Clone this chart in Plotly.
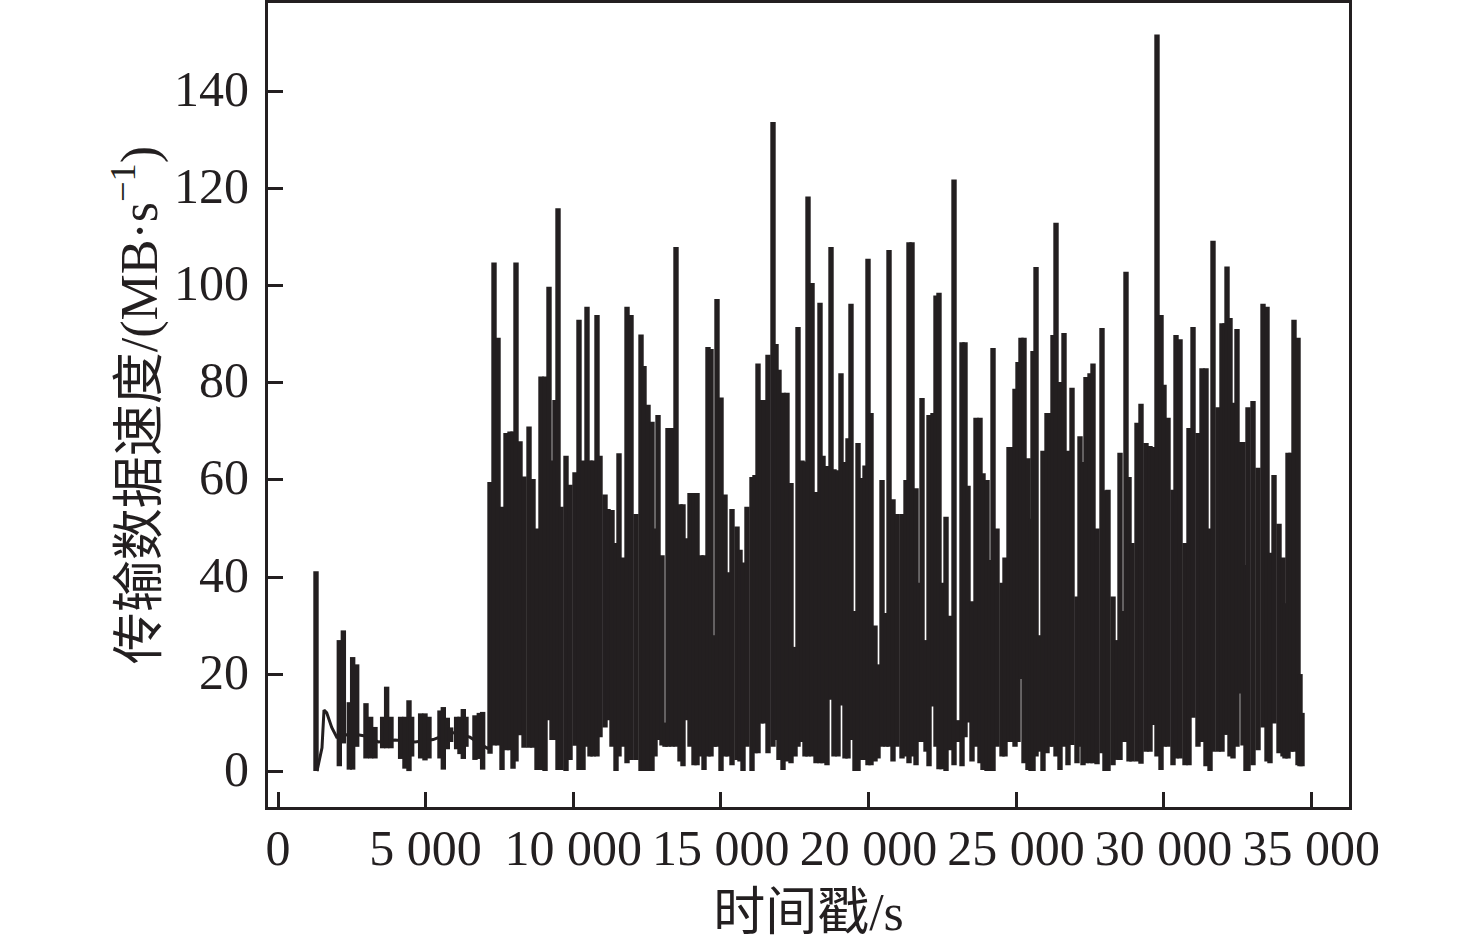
import plotly.graph_objects as go

INK = "#231f20"
FONT = "Liberation Serif, Noto Sans CJK SC, serif"

# Early sparse bursts and the later dense bursts: time, burst high, burst low
burst_time = [
    1287, 2077, 2213, 2416, 2529, 2665, 2980, 3138, 3285, 3545,
    3680, 3827, 4154, 4301, 4437, 4527, 4832, 4979, 5114, 5487,
    5600, 5735, 5848, 6051, 6164, 6277, 6367, 6672, 6819, 6932,
    7182, 7317, 7453, 7588, 7724, 7859, 7961, 8062, 8198, 8334,
    8503, 8638, 8774, 8909, 9045, 9180, 9282, 9383, 9485, 9587,
    9756, 9892, 10061, 10196, 10332, 10467, 10569, 10671, 10806, 10908,
    11077, 11179, 11314, 11450, 11551, 11687, 11823, 11958, 12127, 12297,
    12398, 12534, 12669, 12771, 12873, 13008, 13110, 13211, 13347, 13482,
    13618, 13719, 13855, 13957, 14092, 14194, 14329, 14431, 14566, 14668,
    14770, 14871, 15007, 15142, 15244, 15379, 15549, 15650, 15752, 15887,
    16057, 16158, 16260, 16361, 16463, 16599, 16768, 16870, 16971, 17107,
    17242, 17378, 17514, 17615, 17751, 17852, 17954, 18090, 18225, 18360,
    18462, 18597, 18733, 18834, 18970, 19071, 19207, 19309, 19410, 19546,
    19648, 19783, 19885, 19986, 20088, 20223, 20325, 20461, 20596, 20698,
    20833, 20969, 21138, 21274, 21375, 21477, 21613, 21714, 21816, 21951,
    22053, 22188, 22290, 22391, 22493, 22629, 22764, 22900, 23035, 23171,
    23272, 23374, 23509, 23645, 23780, 23882, 24018, 24119, 24221, 24356,
    24526, 24627, 24763, 24864, 24966, 25068, 25169, 25271, 25406, 25508,
    25576, 25678, 25779, 25914, 26050, 26152, 26253, 26355, 26490, 26626,
    26761, 26897, 27066, 27168, 27270, 27371, 27507, 27608, 27744, 27913,
    28014, 28116, 28286, 28421, 28523, 28624, 28726, 28828, 28929, 29099,
    29234, 29403, 29539, 29641, 29776, 29912, 30013, 30149, 30318, 30420,
    30556, 30725, 30860, 30996, 31165, 31301, 31436, 31572, 31673, 31843,
    31978, 32080, 32148, 32249, 32351, 32486, 32588, 32689, 32791, 32859,
    33028, 33198, 33367, 33503, 33604, 33740, 33909, 34045, 34112, 34214,
    34315, 34417, 34553, 34620, 34688,
]
burst_high = [
    41.2, 27, 29, 14.2, 23.5, 22, 14, 11.2, 9.1, 11.2,
    17.4, 11.2, 11.2, 11.2, 14.6, 11.2, 11.9, 11.9, 11.2, 12.5,
    13.2, 11, 9, 11.2, 11.2, 12.8, 11.2, 11.5, 12, 12.2,
    59.6, 104.8, 89.3, 54.5, 69.7, 70, 70, 104.8, 68, 60.7,
    71, 60.2, 50, 81.3, 81.3, 99.8, 64, 76.5, 116, 54.5,
    65, 59, 61.6, 93, 64, 95.7, 64, 64, 94, 65,
    57, 54, 53.8, 47, 65.5, 44, 95.7, 94, 53, 90,
    83.5, 75.5, 72, 50, 73.4, 44.5, 10, 70.7, 70.7, 108,
    55, 55, 48, 57.3, 57.3, 57.3, 44.5, 44.5, 87.4, 87,
    28, 97.3, 77, 57, 41, 54, 50.4, 45.6, 43, 54.5,
    60.6, 61, 84, 76.5, 76.5, 85.8, 133.8, 88, 82.7, 78,
    78, 59.4, 25.6, 91.5, 64, 63.8, 118.4, 100.6, 57.5, 96.5,
    65, 62.9, 108, 62.2, 62, 82, 63.7, 68.6, 96.3, 33,
    67.6, 60.4, 63, 105.6, 73.8, 30, 22, 60, 32.6, 107.4,
    56, 53, 53, 60, 109, 109, 58.3, 38.8, 76.9, 27,
    73.4, 73.8, 98, 98.6, 38.8, 52.4, 32, 121.9, 10.5, 88.4,
    88.4, 58.8, 35, 72.8, 72.8, 61.4, 60, 43.5, 87.2, 50,
    38.8, 44, 66.8, 66.8, 78.8, 84.3, 89.3, 89.3, 64.5, 52,
    86.6, 103.9, 28, 66, 73.8, 73.8, 89.9, 113, 80.2, 90.3,
    66, 79, 36, 69, 63.7, 81.2, 82, 84, 50, 91.3,
    57.9, 58, 36, 27, 65.6, 33, 102.9, 60.6, 47, 71.8,
    75.7, 67.6, 67, 66.8, 151.8, 94, 79.6, 72.8, 58, 89.9,
    89, 47, 70.7, 91.5, 69.7, 83, 83, 50, 109.3, 75,
    92.3, 92.3, 104, 93.4, 75.9, 91.1, 67.8, 67.8, 42.5, 75,
    76.3, 62.5, 96.3, 95.7, 45, 61, 51, 44, 34.6, 65.6,
    65.6, 93, 89.3, 20, 12,
]
burst_low = [
    0, 1, 5.7, 0.3, 0.3, 5, 2.6, 2.6, 2.6, 4.7,
    4.7, 4.7, 2.5, 0.5, 0, 3, 2.6, 2.2, 2.6, 2.6,
    0.3, 4.5, 6, 4.5, 3.5, 2.5, 5, 2.3, 2.5, 0.3,
    3.6, 5.3, 5.3, 0.2, 4.3, 4.3, 0.5, 2, 7.4, 4.8,
    4.8, 4.8, 0.2, 0.2, 0, 10.5, 6.4, 6.4, 0.2, 0.2,
    0, 2.3, 5.2, 0.2, 0.2, 5, 3, 3, 3, 7,
    9, 10.5, 5, 0, 3, 5, 1.6, 2.3, 2.3, 0,
    0, 0, 0, 3, 6.4, 5.3, 5, 5, 5, 5,
    2, 1, 10.5, 5, 1.2, 1.2, 3, 0.2, 3, 3,
    5, 5, 0, 3, 3, 1.2, 2.3, 2, 0, 5,
    0, 3.7, 3.7, 9.8, 9.8, 3.7, 5, 6.4, 2.3, 0.2,
    2, 1.6, 3, 5, 6, 3, 3, 3, 1.6, 1.6,
    1.6, 1.2, 14.7, 3, 3, 13.5, 2.6, 2.6, 6.4, 0,
    0, 2.3, 2.3, 1.2, 1.2, 2, 2.6, 5, 5, 5,
    2, 5, 2.6, 3, 1.6, 3, 1.2, 6, 6, 4,
    1, 13.3, 5, 0.4, 0.4, 0, 4.3, 1.2, 6, 1,
    7, 10, 2, 5, 1.6, 0.2, 0, 0, 0, 5,
    3, 3, 6, 6, 5, 6, 19, 1.6, 0.2, 0,
    0, 3, 4, 0, 3.7, 5, 5, 3, 0.2, 5,
    1.2, 5.4, 1.6, 5, 1.2, 1.6, 1.6, 1.6, 1.4, 3.7,
    0, 0, 1.2, 2.3, 2.3, 6, 6, 2, 2, 2,
    1.5, 4, 4, 9.5, 3, 0.2, 5, 5, 1.2, 2.6,
    2.6, 1.2, 1.2, 11, 5, 6, 1, 0, 4, 4,
    4, 7.5, 7.5, 3, 2.6, 5, 16, 5.3, 0, 0,
    1.2, 4.3, 9, 2, 1.6, 9.8, 3.7, 3, 2.6, 2.6,
    4, 4, 1.2, 1, 1,
]
assert len(burst_time) == len(burst_high) == len(burst_low)

# Quiet level running between the early bursts
quiet_time = [1320, 1400, 1490, 1558, 1650, 1820, 1990, 2140, 2330, 2700,
              2900, 3400, 3962, 4640, 5260, 5880, 6500, 7090, 7182]
quiet_rate = [0, 2.5, 4.8, 12.6, 12, 9, 7, 7, 7.5, 7.5,
              7.3, 6, 6.4, 6, 6.5, 8, 7, 4.7, 5]

x_tick_vals = [0, 5000, 10000, 15000, 20000, 25000, 30000, 35000]
x_tick_text = ["0", "5 000", "10 000", "15 000", "20 000", "25 000", "30 000", "35 000"]
y_tick_vals = [0, 20, 40, 60, 80, 100, 120, 140]

burst_x, burst_y = [], []
for t, hi, lo in zip(burst_time, burst_high, burst_low):
    burst_x += [t, t, None]
    burst_y += [lo, hi, None]

fig = go.Figure()
fig.add_trace(go.Scatter(x=quiet_time, y=quiet_rate, mode="lines",
                         line=dict(color=INK, width=3), showlegend=False))
fig.add_trace(go.Scatter(x=burst_x, y=burst_y, mode="lines",
                         line=dict(color=INK, width=5.4, simplify=False),
                         showlegend=False))

axis_common = dict(
    showgrid=False, zeroline=False, showline=True, mirror=True,
    linecolor=INK, linewidth=3, ticks="inside", ticklen=15,
    tickwidth=3, tickcolor=INK,
    tickfont=dict(family=FONT, size=50, color=INK),
)
fig.update_xaxes(
    range=[-339, 36280], tickmode="array", tickvals=x_tick_vals,
    ticktext=x_tick_text, ticklabelstandoff=-5,
    title=dict(text="时间戳/s", standoff=19, font=dict(family=FONT, size=52, color=INK)),
    **axis_common,
)
fig.update_yaxes(
    range=[-7.4, 158.3], tickmode="array", tickvals=y_tick_vals,
    ticklabelstandoff=6, ticklabelshift=-3,
    title=dict(text="传输数据速度/(MB·s<sup>−1</sup>)", standoff=0,
               font=dict(family=FONT, size=52, color=INK)),
    **axis_common,
)
fig.update_layout(
    width=1476, height=945, autosize=False,
    margin=dict(l=268, r=127, t=0, b=138),
    paper_bgcolor="white", plot_bgcolor="white", showlegend=False,
)
fig.write_html("out.html", config={"displayModeBar": False},
               post_script="document.body.style.margin='0';")
